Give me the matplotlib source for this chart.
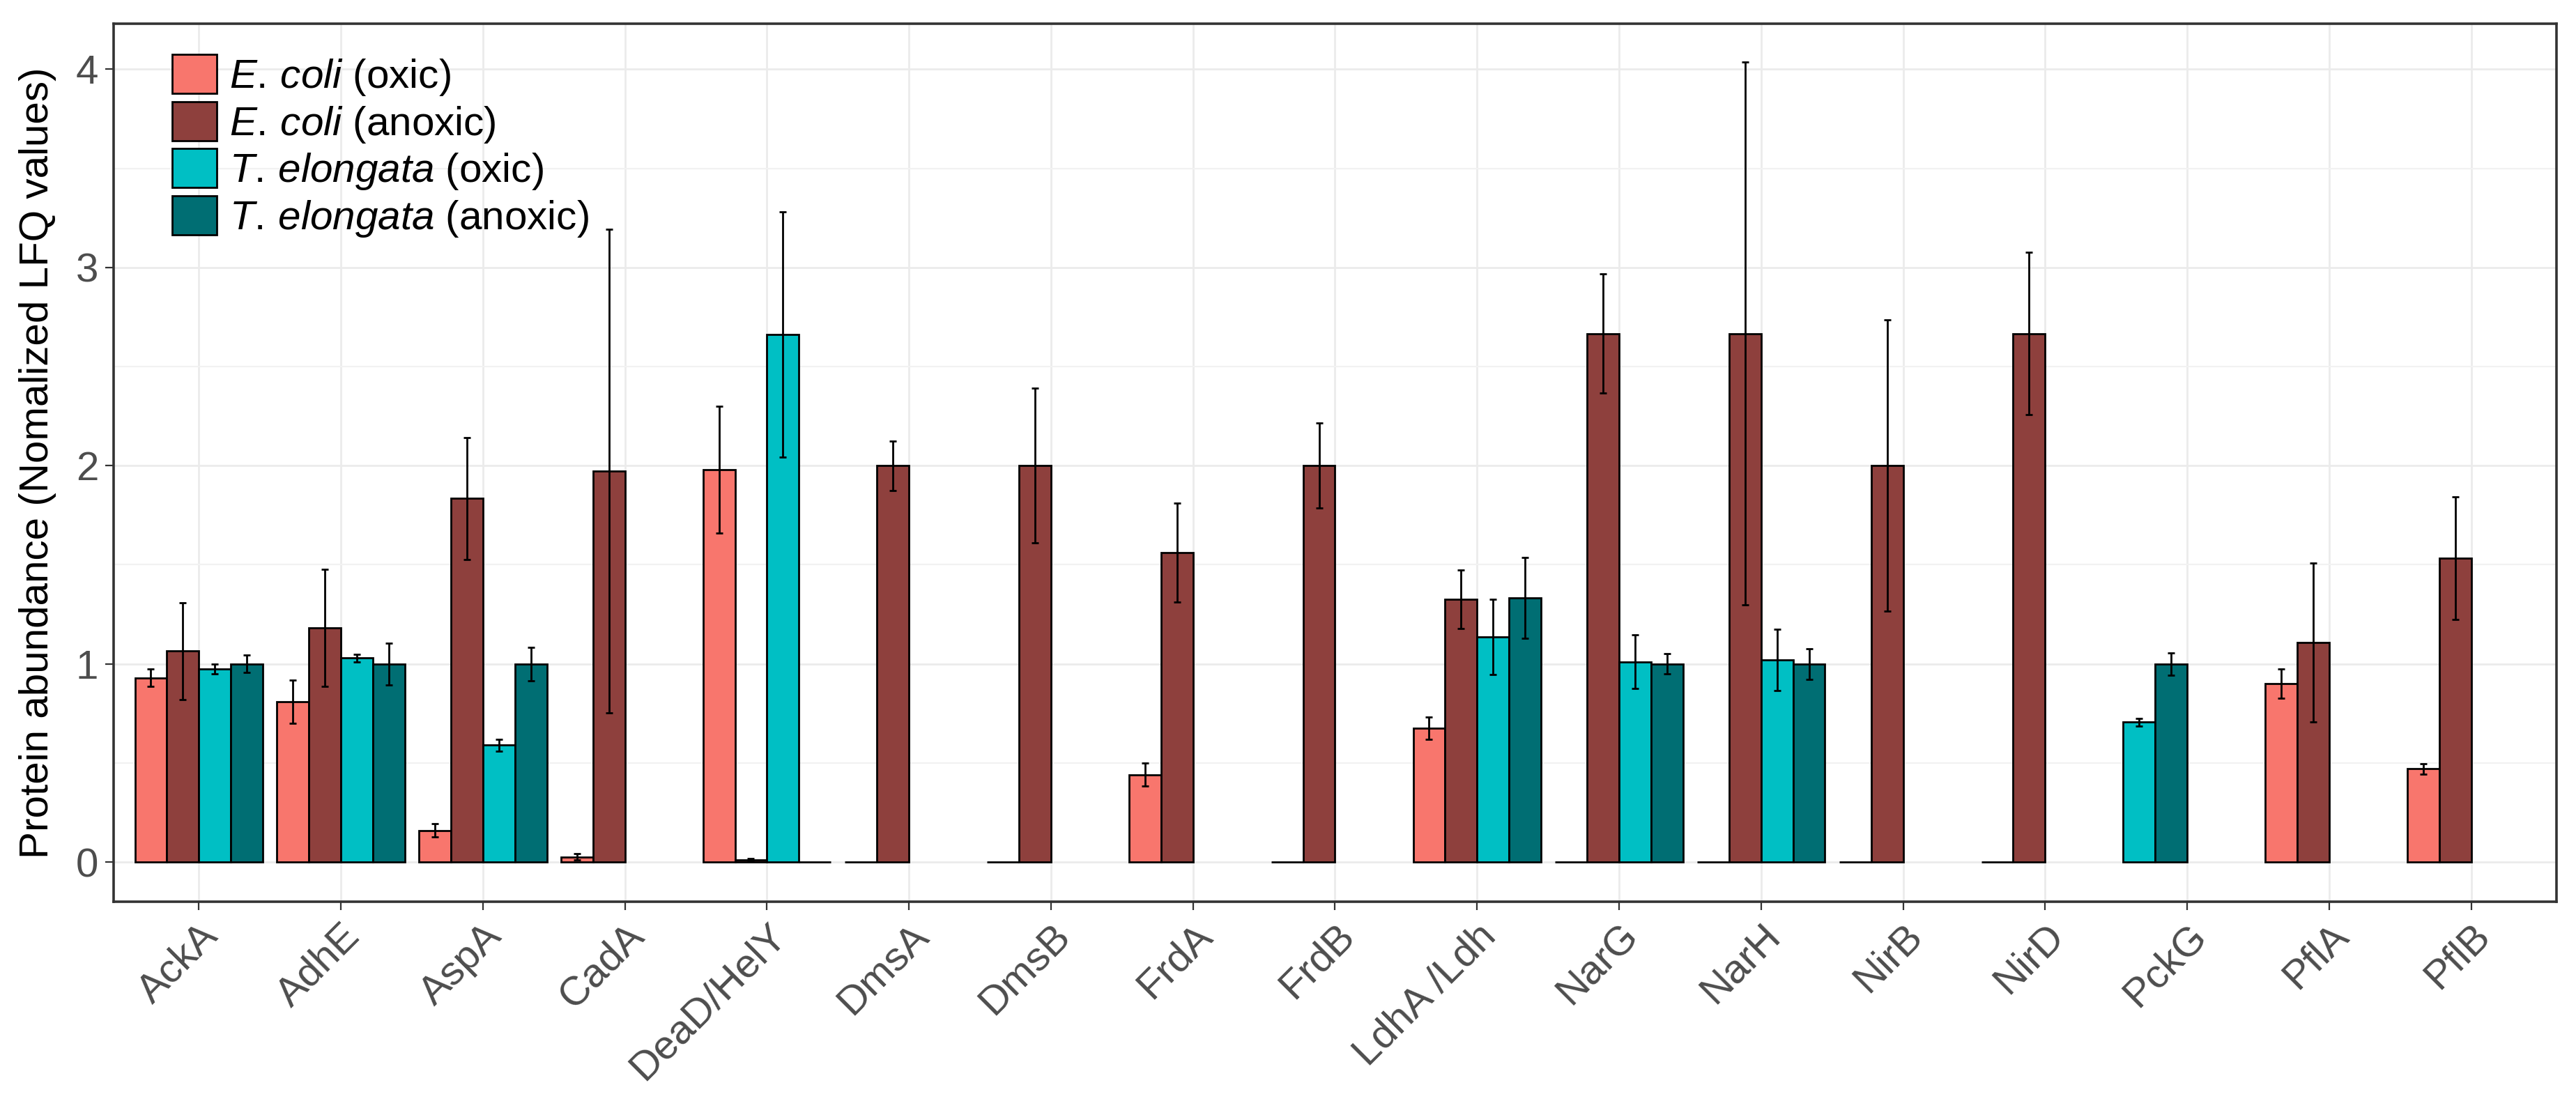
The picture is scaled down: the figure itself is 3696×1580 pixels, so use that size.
import numpy as np
import matplotlib
matplotlib.use('Agg')
import matplotlib.pyplot as plt
from matplotlib.patches import Patch
from matplotlib.ticker import MultipleLocator

plt.rcParams['font.family'] = ['Liberation Sans', 'DejaVu Sans']
plt.rcParams['mathtext.fontset'] = 'custom'
plt.rcParams['mathtext.rm'] = 'Liberation Sans'
plt.rcParams['mathtext.it'] = 'Liberation Sans:italic'

categories = ['AckA', 'AdhE', 'AspA', 'CadA', 'DeaD/HelY', 'DmsA', 'DmsB', 'FrdA',
              'FrdB', 'LdhA /Ldh', 'NarG', 'NarH', 'NirB', 'NirD', 'PckG', 'PflA', 'PflB']

# None = protein not reported for that condition
ecoli_oxic = [0.93, 0.81, 0.16, 0.026, 1.98, 0, 0, 0.44, 0, 0.675, 0, 0, 0, 0, None, 0.90, 0.47]
ecoli_oxic_err = [0.045, 0.109, 0.033, 0.015, 0.32, None, None, 0.058, None, 0.055,
                  None, None, None, None, None, 0.073, 0.025]

ecoli_anoxic = [1.064, 1.183, 1.835, 1.974, 0.012, 2.0, 2.0, 1.562, 2.0, 1.326,
                2.667, 2.667, 2.0, 2.667, None, 1.108, 1.533]
ecoli_anoxic_err = [0.243, 0.295, 0.308, 1.22, 0.005, 0.125, 0.39, 0.25, 0.215, 0.148,
                    0.30, 1.37, 0.735, 0.41, None, 0.40, 0.31]

tel_oxic = [0.974, 1.029, 0.590, None, 2.662, None, None, None, None, 1.135,
            1.01, 1.02, None, None, 0.706, None, None]
tel_oxic_err = [0.026, 0.02, 0.03, None, 0.62, None, None, None, None, 0.19,
                0.135, 0.155, None, None, 0.02, None, None]

tel_anoxic = [1.0, 1.0, 1.0, None, 0, None, None, None, None, 1.333,
              1.0, 1.0, None, None, 1.0, None, None]
tel_anoxic_err = [0.043, 0.105, 0.085, None, None, None, None, None, None, 0.205,
                  0.05, 0.077, None, None, 0.056, None, None]

labels = [r'$\it{E.\,coli}$ (oxic)', r'$\it{E.\,coli}$ (anoxic)',
          r'$\it{T.\,elongata}$ (oxic)', r'$\it{T.\,elongata}$ (anoxic)']
colors = ['#F8766D', '#8E403D', '#00BFC4', '#006E73']

series = [(ecoli_oxic, ecoli_oxic_err), (ecoli_anoxic, ecoli_anoxic_err),
          (tel_oxic, tel_oxic_err), (tel_anoxic, tel_anoxic_err)]

fig = plt.figure(figsize=(18.48, 7.9), dpi=200)
ax = fig.add_axes([0.0441, 0.181, 0.9483, 0.7975])

bw = 0.225
for i in range(len(categories)):
    # ggplot dodge: present bars fill the slots from the left
    slot = 0
    for k, (vals, errs) in enumerate(series):
        v = vals[i]
        if v is None:
            continue
        x = i - 0.3375 + bw * slot
        ax.bar(x, v, width=bw, color=colors[k], edgecolor='black', linewidth=1.0, zorder=3)
        if errs[i] is not None:
            ax.errorbar(x, v, yerr=errs[i], fmt='none', ecolor='black', elinewidth=1.0,
                        capsize=1.9, capthick=1.0, zorder=4)
        slot += 1

ax.set_xlim(-0.6, len(categories) - 0.4)
ax.set_ylim(-0.2, 4.23)
ax.set_xticks(np.arange(len(categories)))
ax.set_xticklabels(categories, rotation=45, ha='right', rotation_mode='anchor')
ax.yaxis.set_major_locator(MultipleLocator(1))
ax.yaxis.set_minor_locator(MultipleLocator(0.5))

ax.grid(which='major', color='#EBEBEB', linewidth=1.0, zorder=0)
ax.grid(which='minor', axis='y', color='#F2F2F2', linewidth=0.8, zorder=0)
ax.set_axisbelow(True)

ax.tick_params(axis='both', which='major', labelsize=21, labelcolor='#4D4D4D',
               color='#333333', length=4.3, width=0.8)
ax.tick_params(axis='y', which='minor', length=0)
for sp in ax.spines.values():
    sp.set_color('#333333')
    sp.set_linewidth(1.3)

ax.set_ylabel('Protein abundance (Nomalized LFQ values)', fontsize=21, color='black', labelpad=10)

handles = [Patch(facecolor=c, edgecolor='black', linewidth=1.0) for c in colors]
ax.legend(handles, labels, loc='upper left', bbox_to_anchor=(0.024, 0.965), frameon=False,
          fontsize=21, handlelength=1.1, handleheight=1.1, labelspacing=0.1,
          handletextpad=0.3, borderpad=0, borderaxespad=0)

fig.savefig('out.png', dpi=200)
